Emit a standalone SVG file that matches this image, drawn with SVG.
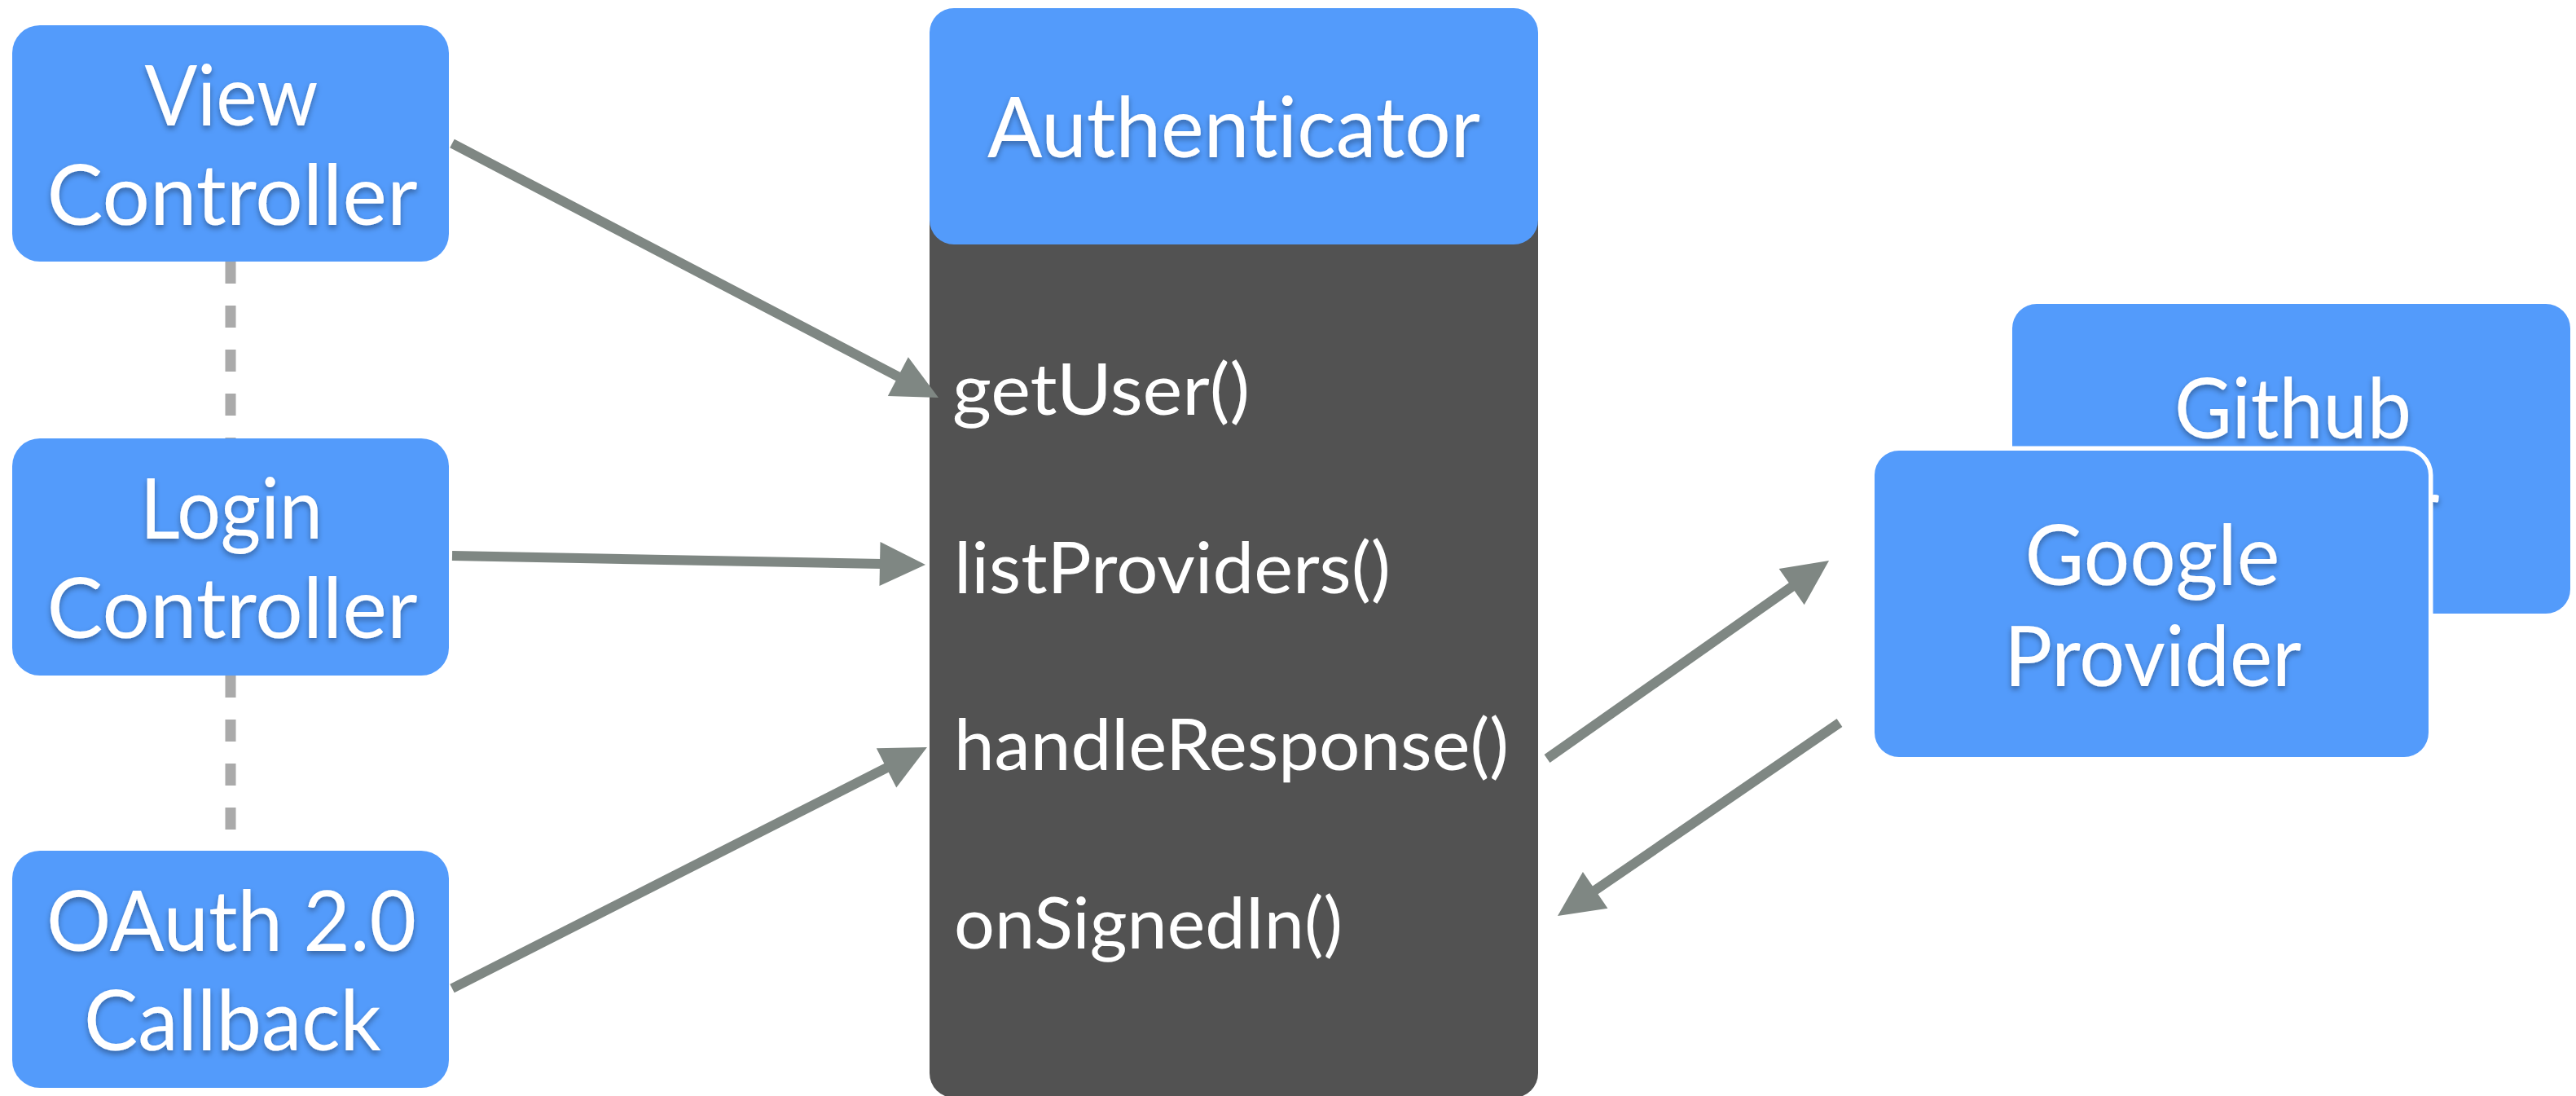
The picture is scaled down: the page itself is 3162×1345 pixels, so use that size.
<svg xmlns="http://www.w3.org/2000/svg" width="3162" height="1345" viewBox="0 0 3162 1345">
<style>
.box{fill:#539BFB;}
.t{font-family:Lato,"Open Sans","Liberation Sans",sans-serif;fill:#fff;font-size:103px;text-anchor:middle;filter:url(#sh);font-variant-ligatures:none;}
.m{font-family:Lato,"Open Sans","Liberation Sans",sans-serif;fill:#fff;font-size:88px;font-variant-ligatures:none;}
.dash{stroke:#aaaaaa;stroke-width:13;stroke-dasharray:27 27;fill:none;}
.arr{stroke:#7f8783;stroke-width:12;fill:none;marker-end:url(#ah);}
</style>
<defs>
<filter id="sh" x="-10%" y="-20%" width="120%" height="150%">
<feDropShadow dx="0" dy="4" stdDeviation="3.5" flood-color="#000" flood-opacity="0.35"/>
</filter>
<marker id="ah" markerUnits="userSpaceOnUse" markerWidth="60" markerHeight="60" refX="16" refY="27" orient="auto" overflow="visible">
<path d="M0,0 L56,27 L0,54 z" fill="#7f8783"/>
</marker>
</defs>
<rect width="3162" height="1345" fill="#fff"/>

<g id="dashes">
<line class="dash" x1="283" y1="321" x2="283" y2="538"/>
<line class="dash" x1="283" y1="829" x2="283" y2="1044"/>
</g>

<g id="view-controller">
<rect class="box" x="15" y="31" width="536" height="290" rx="34"/>
<text class="t" x="284" y="154" textLength="213" lengthAdjust="spacingAndGlyphs">View</text>
<text class="t" x="285" y="276" textLength="455" lengthAdjust="spacingAndGlyphs">Controller</text>
</g>

<g id="login-controller">
<rect class="box" x="15" y="538" width="536" height="291" rx="34"/>
<text class="t" x="284" y="661" textLength="224" lengthAdjust="spacingAndGlyphs">Login</text>
<text class="t" x="285" y="783" textLength="455" lengthAdjust="spacingAndGlyphs">Controller</text>
</g>

<g id="oauth-callback">
<rect class="box" x="15" y="1044" width="536" height="291" rx="34"/>
<text class="t" x="284" y="1167" textLength="454" lengthAdjust="spacingAndGlyphs">OAuth 2.0</text>
<text class="t" x="285.5" y="1289" textLength="365" lengthAdjust="spacingAndGlyphs">Callback</text>
</g>

<g id="authenticator">
<rect x="1141" y="200" width="747" height="1147" rx="30" fill="#525252"/>
<rect class="box" x="1141" y="10" width="747" height="290" rx="30"/>
<text class="t" x="1514.5" y="193" textLength="605" lengthAdjust="spacingAndGlyphs">Authenticator</text>
<text class="m" x="1169" y="509" textLength="365" lengthAdjust="spacingAndGlyphs">getUser()</text>
<text class="m" x="1171" y="728" textLength="536" lengthAdjust="spacingAndGlyphs">listProviders()</text>
<text class="m" x="1171" y="945" textLength="681" lengthAdjust="spacingAndGlyphs">handleResponse()</text>
<text class="m" x="1171" y="1164" textLength="477" lengthAdjust="spacingAndGlyphs">onSignedIn()</text>
</g>

<g id="github-provider">
<rect class="box" x="2470" y="373" width="685" height="380" rx="30"/>
<text class="t" x="2814.5" y="538" textLength="291" lengthAdjust="spacingAndGlyphs">Github</text>
<text class="t" x="2812" y="660" textLength="365" lengthAdjust="spacingAndGlyphs">Provider</text>
</g>

<g id="google-provider">
<rect class="box" x="2301" y="553" width="680" height="376" rx="30" stroke="#fff" stroke-width="11" paint-order="stroke"/>
<text class="t" x="2642" y="718" textLength="313" lengthAdjust="spacingAndGlyphs">Google</text>
<text class="t" x="2642.5" y="842" textLength="365" lengthAdjust="spacingAndGlyphs">Provider</text>
</g>

<g id="connectors">
<line class="arr" x1="555" y1="176" x2="1116.5" y2="469.5"/>
<line class="arr" x1="555" y1="682" x2="1096" y2="692.2"/>
<line class="arr" x1="555" y1="1213" x2="1102.3" y2="935.1"/>
<line class="arr" x1="1899" y1="931" x2="2212.3" y2="711"/>
<line class="arr" x1="2258" y1="887" x2="1945" y2="1101.4"/>
</g>
</svg>
